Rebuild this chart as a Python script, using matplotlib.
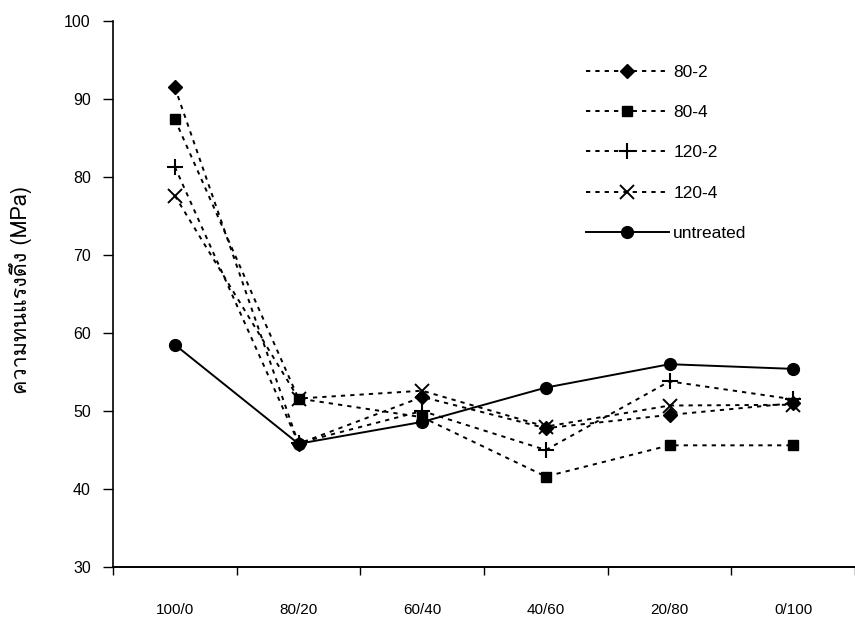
import matplotlib
matplotlib.use("Agg")
import matplotlib.pyplot as plt
from matplotlib import font_manager
from matplotlib.ft2font import FT2Font
from matplotlib.lines import Line2D

# --- data -------------------------------------------------------------
categories = ["100/0", "80/20", "60/40", "40/60", "20/80", "0/100"]
s_80_2 = [91.5, 45.8, 51.8, 47.8, 49.5, 51.0]
s_80_4 = [87.4, 51.6, 49.2, 41.6, 45.6, 45.6]
s_120_2 = [81.3, 45.9, 50.0, 45.0, 53.8, 51.5]
s_120_4 = [77.6, 51.6, 52.6, 48.0, 50.7, 50.8]
untreated = [58.5, 45.8, 48.6, 53.0, 56.0, 55.4]
series_names = ["80-2", "80-4", "120-2", "120-4", "untreated"]
y_label = "ความทนแรงดึง (MPa)"
y_ticks = [30, 40, 50, 60, 70, 80, 90, 100]


def find_thai_font():
    for fe in font_manager.fontManager.ttflist:
        try:
            cmap = FT2Font(fe.fname).get_charmap()
        except Exception:
            continue
        if 0x0E04 in cmap and 0x0E27 in cmap:
            return fe.name
    return None


thai = find_thai_font()
base_font = "Liberation Sans"
plt.rcParams["font.family"] = [base_font, "DejaVu Sans"]

fig = plt.figure(figsize=(8.55, 6.25), dpi=100)
W, H = 855, 625
x0, x1 = 113, 855
ytop, ybot = 21, 567
ax = fig.add_axes([x0 / W, (H - ybot) / H, (x1 - x0) / W, (ybot - ytop) / H])

x = list(range(len(categories)))
dot = (0, (2.2, 2.6))
styles = [
    dict(marker="D", ms=7.5, ls=dot, mfc="k", mec="k"),
    dict(marker="s", ms=6.8, ls=dot, mfc="k", mec="k"),
    dict(marker="+", ms=11, mew=1.5, ls=dot),
    dict(marker="x", ms=10.5, mew=1.4, ls=dot),
    dict(marker="o", ms=8.5, ls="-", mfc="k", mec="k"),
]
data = [s_80_2, s_80_4, s_120_2, s_120_4, untreated]
for vals, st in zip(data, styles):
    ax.plot(x, vals, color="k", lw=1.4, **st)

ax.set_ylim(30, 100)
ax.set_xlim(-0.5, (x1 - x0) / 124.6 - 0.5)
ax.set_yticks(y_ticks)
ax.tick_params(axis="y", direction="out", length=7, width=1, pad=9,
               labelsize=11.5)
# boundary ticks between categories, labels centred under each category
ax.set_xticks([i - 0.5 for i in range(len(categories) + 1)])
ax.set_xticklabels([])
ax.set_xticks(x, minor=True)
ax.set_xticklabels(categories, minor=True, fontsize=11)
ax.tick_params(axis="x", which="major", direction="out", length=6, width=1)
ax.tick_params(axis="x", which="minor", length=0, pad=26)
for s in ["top", "right"]:
    ax.spines[s].set_visible(False)
ax.spines["left"].set_linewidth(1.2)
ax.spines["bottom"].set_linewidth(1.4)

lab_family = [thai, base_font] if thai else [base_font]
ax.set_ylabel(y_label, family=lab_family, fontsize=15.5)
ax.yaxis.set_label_coords(-0.109, 0.507)

handles = [Line2D([], [], color="k", lw=1.4, **st) for st in styles]
fig.legend(handles, series_names, loc="upper left",
           bbox_to_anchor=(570 / W, 1 - 49 / H), frameon=False,
           fontsize=12.5, handlelength=4.8, labelspacing=1.45,
           handletextpad=0.25)

fig.savefig("out.png", dpi=100)
